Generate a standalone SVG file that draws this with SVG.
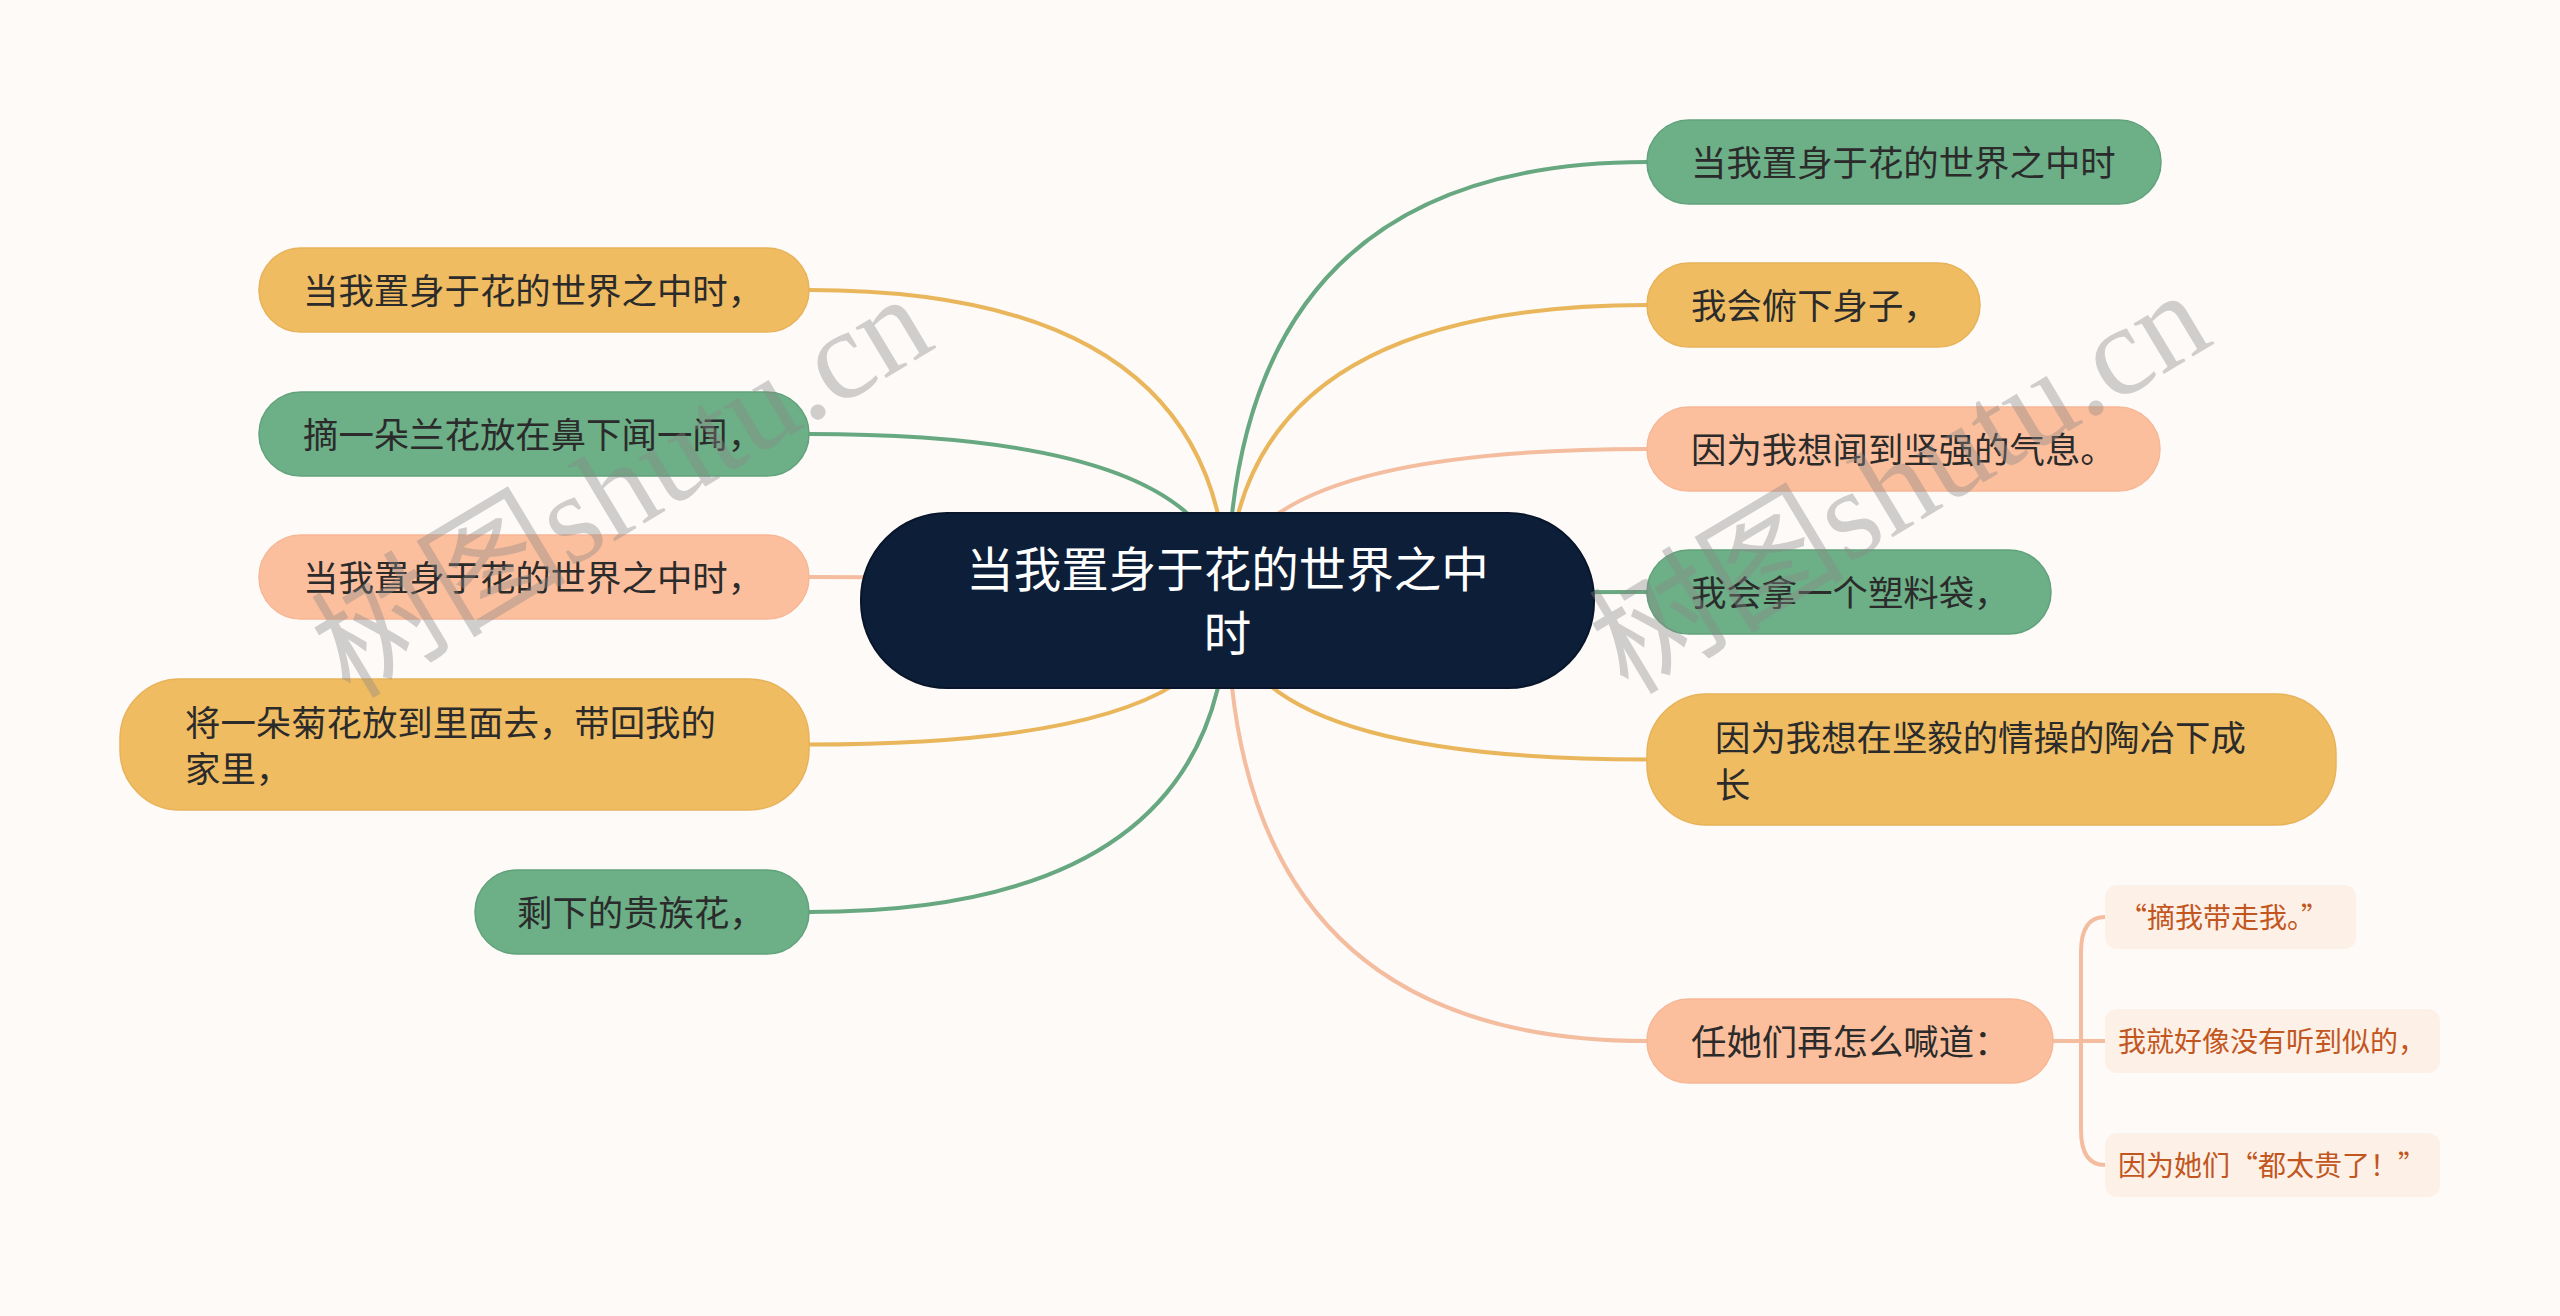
<svg xmlns="http://www.w3.org/2000/svg" width="2560" height="1316" viewBox="0 0 2560 1316">
<style>
.t{font-family:"Noto Sans CJK SC","Noto Sans",sans-serif;font-size:35.4px;fill:#2b2b2b}
.ct{font-family:"Noto Sans CJK SC","Noto Sans",sans-serif;font-size:47.5px;fill:#ffffff}
.st{font-family:"Noto Sans CJK SC","Noto Sans",sans-serif;font-size:28px;fill:#c2561e}
.y{fill:#f0bc62;stroke:#e7b258;stroke-width:1.5}
.g{fill:#6daf87;stroke:#61a27b;stroke-width:1.5}
.p{fill:#fcbf9d;stroke:#f6b795;stroke-width:1.5}
.sub{fill:#fdf0e6}
.c{fill:none;stroke-width:4;stroke-linecap:round}
.cy{stroke:#e9b65c}
.cg{stroke:#67a881}
.cp{stroke:#f4bd9f}
.wm{font-family:"Liberation Serif","Noto Sans CJK SC",serif;font-size:128px;fill:#888888;opacity:0.38}
</style>
<rect x="0" y="0" width="2560" height="1316" fill="#fdfaf8"/>

<g id="connectors">
  <path class="c cy" d="M1227.5 600.5 Q1227.5 290 809 290"/>
  <path class="c cg" d="M1227.5 600.5 Q1227.5 434 809 434"/>
  <path class="c cp" d="M1227.5 600.5 Q1227.5 577 809 577"/>
  <path class="c cy" d="M1227.5 600.5 Q1227.5 744.5 809 744.5"/>
  <path class="c cg" d="M1227.5 600.5 Q1227.5 912 809 912"/>
  <path class="c cg" d="M1227.5 600.5 Q1227.5 162 1647 162"/>
  <path class="c cy" d="M1227.5 600.5 Q1227.5 305 1647 305"/>
  <path class="c cp" d="M1227.5 600.5 Q1227.5 449 1647 449"/>
  <path class="c cg" d="M1227.5 600.5 Q1227.5 592 1647 592"/>
  <path class="c cy" d="M1227.5 600.5 Q1227.5 759.5 1647 759.5"/>
  <path class="c cp" d="M1227.5 600.5 Q1227.5 1041 1647 1041"/>
  <path class="c cp" d="M2053 1041 H2105"/>
  <path class="c cp" d="M2081 1041 V952 Q2081 917 2105 917"/>
  <path class="c cp" d="M2081 1041 V1130 Q2081 1165 2105 1165"/>
</g>

<g id="center">
  <rect x="861" y="513" width="733" height="175" rx="86" fill="#0d1f38" stroke="#08152a" stroke-width="2"/>
  <text class="ct" x="1227.5" y="586.5" text-anchor="middle">当我置身于花的世界之中</text>
  <text class="ct" x="1227.5" y="650.5" text-anchor="middle">时</text>
</g>

<g id="l1"><rect class="y" x="259" y="248" width="550" height="84" rx="42"/><text class="t" x="303" y="303.5">当我置身于花的世界之中时，</text></g>
<g id="l2"><rect class="g" x="259" y="392" width="550" height="84" rx="42"/><text class="t" x="303" y="447.5">摘一朵兰花放在鼻下闻一闻，</text></g>
<g id="l3"><rect class="p" x="259" y="535" width="550" height="84" rx="42"/><text class="t" x="303" y="590.5">当我置身于花的世界之中时，</text></g>
<g id="l4"><rect class="y" x="120" y="679" width="689" height="131" rx="60"/><text class="t" x="185" y="735.5">将一朵菊花放到里面去，带回我的</text><text class="t" x="185" y="781.5">家里，</text></g>
<g id="l5"><rect class="g" x="475" y="870" width="334" height="84" rx="42"/><text class="t" x="517" y="925.5">剩下的贵族花，</text></g>

<g id="r1"><rect class="g" x="1647" y="120" width="514" height="84" rx="42"/><text class="t" x="1691" y="175.5">当我置身于花的世界之中时</text></g>
<g id="r2"><rect class="y" x="1647" y="263" width="333" height="84" rx="42"/><text class="t" x="1691" y="318.5">我会俯下身子，</text></g>
<g id="r3"><rect class="p" x="1647" y="407" width="513" height="84" rx="42"/><text class="t" x="1691" y="462.5">因为我想闻到坚强的气息。</text></g>
<g id="r4"><rect class="g" x="1647" y="550" width="404" height="84" rx="42"/><text class="t" x="1691" y="605.5">我会拿一个塑料袋，</text></g>
<g id="r5"><rect class="y" x="1647" y="694" width="689" height="131" rx="60"/><text class="t" x="1715" y="750.5">因为我想在坚毅的情操的陶冶下成</text><text class="t" x="1715" y="797.5">长</text></g>
<g id="r6"><rect class="p" x="1647" y="999" width="406" height="84" rx="42"/><text class="t" x="1691" y="1054.5">任她们再怎么喊道：</text></g>

<g id="s1"><rect class="sub" x="2105" y="885" width="251" height="64" rx="12"/><text class="st" x="2119" y="927.6">“摘我带走我。”</text></g>
<g id="s2"><rect class="sub" x="2105" y="1009" width="335" height="64" rx="12"/><text class="st" x="2118" y="1051.6">我就好像没有听到似的，</text></g>
<g id="s3"><rect class="sub" x="2105" y="1133" width="335" height="64" rx="12"/><text class="st" x="2118" y="1175.6">因为她们“都太贵了！”</text></g>

<text class="wm" x="350" y="700" transform="rotate(-31 350 700)">树图shutu.cn</text>
<text class="wm" x="1628" y="696" transform="rotate(-31 1628 696)">树图shutu.cn</text>
</svg>
